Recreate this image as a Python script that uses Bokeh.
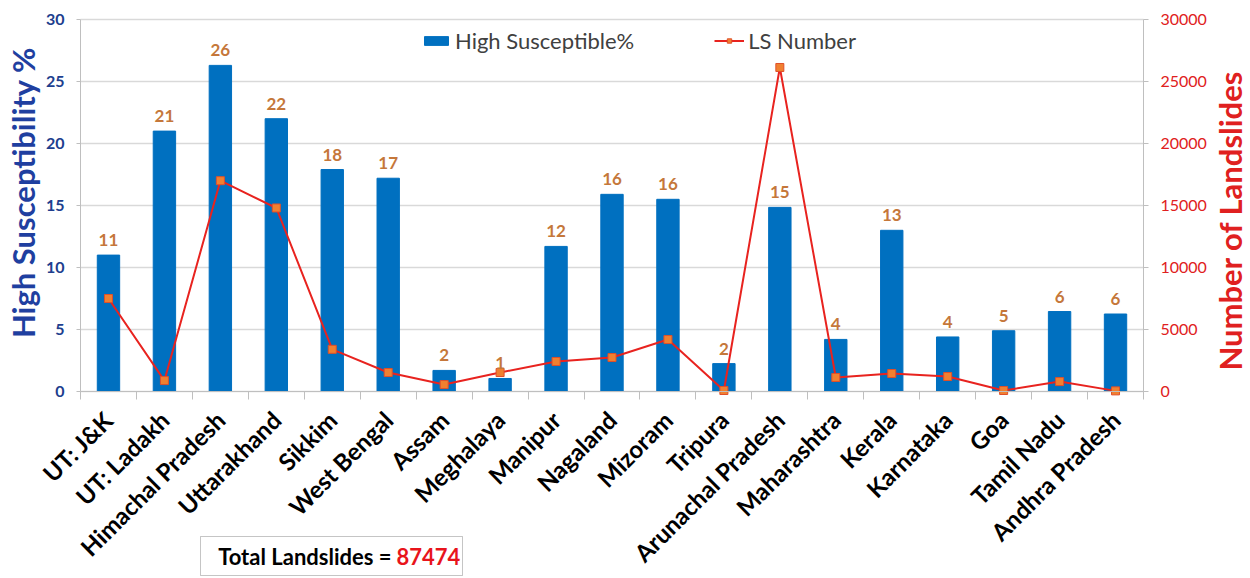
import math
from bokeh.plotting import figure
from bokeh.models import (Range1d, LinearAxis, FixedTicker, Legend, LegendItem,
                          Label, BoxAnnotation, ColumnDataSource)
from bokeh.embed import file_html
from bokeh.resources import INLINE
from bokeh.core.properties import value

states = ["UT: J&K", "UT: Ladakh", "Himachal Pradesh", "Uttarakhand", "Sikkim",
          "West Bengal", "Assam", "Meghalaya", "Manipur", "Nagaland", "Mizoram",
          "Tripura", "Arunachal Pradesh", "Maharashtra", "Kerala", "Karnataka",
          "Goa", "Tamil Nadu", "Andhra Pradesh"]
high_susceptible = [11.0, 21.0, 26.3, 22.0, 17.9, 17.2, 1.7, 1.05, 11.7, 15.9, 15.5,
                    2.25, 14.85, 4.2, 13.0, 4.4, 4.9, 6.45, 6.25]
susceptible_labels = ["11", "21", "26", "22", "18", "17", "2", "1", "12", "16", "16",
                      "2", "15", "4", "13", "4", "5", "6", "6"]
ls_number = [7500, 880, 17000, 14800, 3400, 1530, 560, 1530, 2420, 2740, 4190,
             80, 26130, 1130, 1450, 1210, 80, 800, 50]
left_ticks = [0, 5, 10, 15, 20, 25, 30]
right_ticks = [0, 5000, 10000, 15000, 20000, 25000, 30000]
total_landslides = "87474"

FONT = "Lato"
W, H = 1250, 578
# pixel layout of the value area inside the canvas
AREA_LEFT, AREA_RIGHT, AREA_TOP, AREA_BOTTOM = 80, 1143, 19, 391

n = len(states)
L_MAX, R_MAX = left_ticks[-1], right_ticks[-1]
px_x = (AREA_RIGHT - AREA_LEFT) / n
px_y = (AREA_BOTTOM - AREA_TOP) / L_MAX
px_r = (AREA_BOTTOM - AREA_TOP) / R_MAX

xpos = [i + 0.5 for i in range(n)]
src = ColumnDataSource(dict(x=xpos, hs=high_susceptible, lbl=susceptible_labels,
                            ls=ls_number, name=states))
grid_src = ColumnDataSource(dict(y=left_ticks, x0=[0] * len(left_ticks),
                                 x1=[n] * len(left_ticks)))

# the frame covers the whole canvas; all axes are placed at fixed locations
p = figure(width=W, height=H,
           x_range=Range1d(-AREA_LEFT / px_x, n + (W - AREA_RIGHT) / px_x),
           y_range=Range1d(-(H - AREA_BOTTOM) / px_y, L_MAX + AREA_TOP / px_y),
           output_backend="svg", toolbar_location=None,
           x_axis_location=None, y_axis_location=None,
           min_border=0)
p.extra_y_ranges = {"ls": Range1d(-(H - AREA_BOTTOM) / px_r, R_MAX + AREA_TOP / px_r)}
p.outline_line_color = None
p.background_fill_color = "white"
p.border_fill_color = "white"
p.grid.visible = False

p.segment(x0="x0", x1="x1", y0="y", y1="y", source=grid_src,
          line_color="#D9D9D9", line_width=1.5)

bars = p.vbar(x="x", top="hs", width=0.4, source=src, fill_color="#0070C0",
              line_color="#0070C0")
line = p.line(x="x", y="ls", source=src, y_range_name="ls", line_color="#E8231F",
              line_width=2)
marks = p.scatter(x="x", y="ls", source=src, y_range_name="ls", marker="square",
                  size=8, fill_color="#F08030", line_color="#E0502A", line_width=1)

p.text(x="x", y="hs", text="lbl", source=src, text_align="center",
       text_baseline="bottom", y_offset=-9, text_font=value(FONT),
       text_font_style="bold", text_font_size="17px", text_color="#C5773A")

# category axis at y = 0
xa = LinearAxis(fixed_location=0, bounds=(0, n))
xa.ticker = FixedTicker(ticks=xpos, minor_ticks=list(range(n + 1)))
xa.major_label_overrides = {x: s for x, s in zip(xpos, states)}
xa.major_tick_out = 0
xa.major_tick_in = 0
xa.minor_tick_out = 8
xa.minor_tick_in = 0
xa.minor_tick_line_color = "#BFBFBF"
xa.axis_line_color = "#BFBFBF"
xa.major_label_orientation = math.pi / 4
xa.major_label_standoff = 16
xa.major_label_text_font = FONT
xa.major_label_text_font_style = "bold"
xa.major_label_text_font_size = "24px"
xa.major_label_text_color = "black"
p.add_layout(xa, "below")

# left axis at x = 0
ya = LinearAxis(fixed_location=0, bounds=(0, L_MAX), ticker=FixedTicker(ticks=left_ticks))
ya.axis_line_color = "#BFBFBF"
ya.major_tick_line_color = "#BFBFBF"
ya.major_tick_out = 4
ya.major_tick_in = 0
ya.minor_tick_line_color = None
ya.major_label_standoff = 12
ya.major_label_text_font = FONT
ya.major_label_text_font_style = "bold"
ya.major_label_text_font_size = "16px"
ya.major_label_text_color = "#203E8E"
p.add_layout(ya, "left")

# right axis at x = n
ra = LinearAxis(y_range_name="ls", fixed_location=n, bounds=(0, R_MAX),
                ticker=FixedTicker(ticks=right_ticks))
ra.axis_line_color = "#BFBFBF"
ra.major_tick_line_color = "#BFBFBF"
ra.major_tick_out = 5
ra.major_tick_in = 0
ra.minor_tick_line_color = None
ra.major_label_standoff = 12
ra.major_label_text_font = FONT
ra.major_label_text_font_size = "16px"
ra.major_label_text_color = "#E02020"
p.add_layout(ra, "right")

# axis titles (screen units from the canvas' bottom-left corner)
p.add_layout(Label(x=22, y=H - 192, x_units="screen", y_units="screen",
                   text="High Susceptibility %", angle=math.pi / 2,
                   text_align="center", text_baseline="middle",
                   text_font=FONT, text_font_style="bold", text_font_size="31px",
                   text_color="#1F3FA0"))
p.add_layout(Label(x=1229, y=H - 220, x_units="screen", y_units="screen",
                   text="Number of Landslides", angle=math.pi / 2,
                   text_align="center", text_baseline="middle",
                   text_font=FONT, text_font_style="bold", text_font_size="31px",
                   text_color="#E02020"))

legend = Legend(items=[LegendItem(label="High Susceptible%", renderers=[bars]),
                       LegendItem(label="LS Number", renderers=[line, marks])],
                orientation="horizontal", location=(421, 524),
                border_line_color=None, background_fill_alpha=0,
                padding=0, margin=0, spacing=80, glyph_width=30, glyph_height=11,
                label_standoff=4, label_text_font=FONT, label_text_font_size="22px",
                label_text_color="#404040")
p.add_layout(legend)

# total box
p.add_layout(BoxAnnotation(left=200, right=462, top=H - 536, bottom=H - 575,
                           left_units="screen", right_units="screen",
                           top_units="screen", bottom_units="screen",
                           fill_color="white", fill_alpha=1,
                           line_color="#404040", line_width=1))
p.add_layout(Label(x=391, y=H - 556, x_units="screen", y_units="screen",
                   text="Total Landslides =", text_align="right",
                   text_baseline="middle", text_font=FONT, text_font_style="bold",
                   text_font_size="22px", text_color="black"))
p.add_layout(Label(x=396, y=H - 556, x_units="screen", y_units="screen",
                   text=total_landslides, text_align="left",
                   text_baseline="middle", text_font=FONT, text_font_style="bold",
                   text_font_size="22px", text_color="#E8141B"))

open("out.html", "w").write(file_html(p, INLINE))
